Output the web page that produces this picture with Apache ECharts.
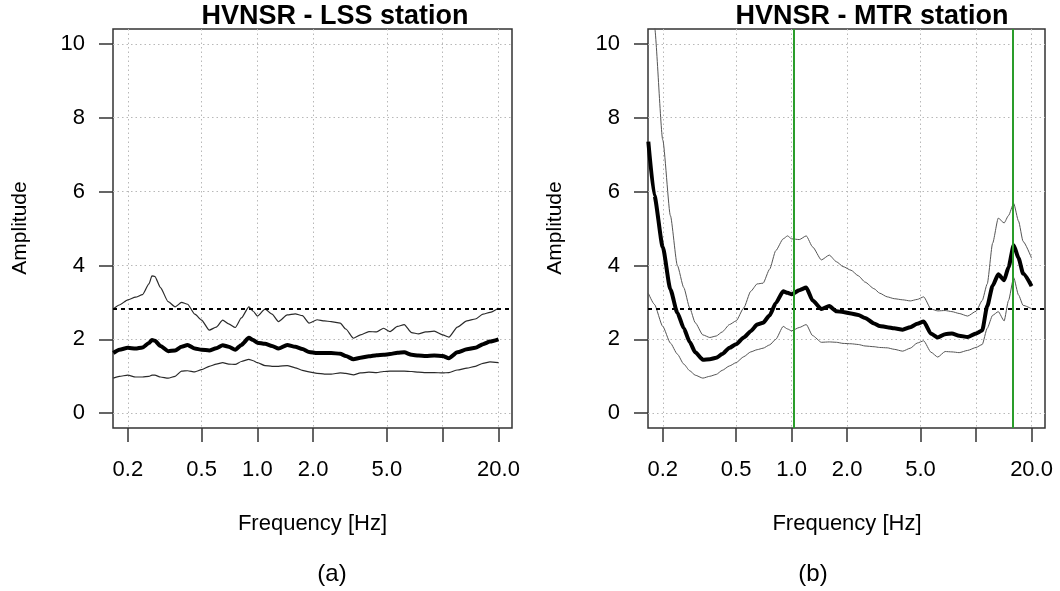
<!DOCTYPE html>
<html><head><meta charset="utf-8">
<script src="https://cdn.jsdelivr.net/npm/echarts@6/dist/echarts.min.js"></script>
<style>html,body{margin:0;padding:0;background:#fff}#c{width:1060px;height:591px}</style>
</head><body><div id="c"></div>
<script>
// ---- data (frequencies in Hz, amplitudes) ----
const freqLSS = [0.167,0.18,0.2,0.22,0.24,0.26,0.27,0.28,0.3,0.33,0.36,0.39,0.42,0.46,0.5,0.55,0.6,0.65,0.7,0.76,0.82,0.9,0.95,1.0,1.1,1.2,1.3,1.45,1.6,1.75,1.9,2.1,2.3,2.5,2.8,3.0,3.3,3.6,4.0,4.4,4.8,5.2,5.7,6.2,6.8,7.4,8.1,9.0,10,10.8,12,13.5,15,16.5,18,20];
const lssUpper = [2.82,2.93,3.07,3.14,3.21,3.50,3.72,3.70,3.40,3.02,2.88,3.00,2.95,2.68,2.52,2.25,2.33,2.52,2.42,2.32,2.58,2.88,2.76,2.63,2.82,2.68,2.48,2.66,2.69,2.64,2.44,2.53,2.50,2.48,2.44,2.28,2.03,2.12,2.21,2.20,2.30,2.21,2.35,2.40,2.18,2.15,2.20,2.22,2.12,2.06,2.33,2.50,2.55,2.68,2.73,2.85];
const lssMean = [1.63,1.72,1.77,1.75,1.78,1.90,1.98,1.96,1.82,1.68,1.70,1.80,1.85,1.75,1.72,1.70,1.76,1.84,1.80,1.72,1.85,2.04,1.98,1.91,1.88,1.82,1.75,1.85,1.80,1.74,1.66,1.63,1.63,1.63,1.61,1.55,1.46,1.50,1.54,1.57,1.58,1.60,1.64,1.65,1.58,1.56,1.55,1.56,1.55,1.49,1.65,1.73,1.77,1.87,1.94,2.00];
const lssLower = [0.95,1.00,1.03,0.98,0.98,1.00,1.03,1.03,0.98,0.95,1.00,1.14,1.15,1.12,1.18,1.27,1.33,1.37,1.33,1.32,1.40,1.46,1.42,1.37,1.29,1.27,1.27,1.29,1.23,1.16,1.12,1.08,1.06,1.06,1.09,1.08,1.04,1.09,1.11,1.10,1.13,1.14,1.14,1.14,1.13,1.11,1.10,1.10,1.09,1.10,1.17,1.22,1.27,1.35,1.39,1.37];

const freqMTR = [0.167,0.18,0.2,0.22,0.24,0.26,0.28,0.3,0.33,0.36,0.39,0.42,0.46,0.5,0.55,0.6,0.65,0.7,0.76,0.82,0.9,0.95,1.0,1.1,1.2,1.3,1.45,1.6,1.75,1.9,2.1,2.3,2.5,2.8,3.0,3.3,3.6,4.0,4.4,4.8,5.2,5.7,6.2,6.8,7.4,8.1,9.0,10,10.8,11.5,12.3,13.2,14.2,15,16,17,18,20];
const mtrUpper = [12.6,10.5,7.4,5.35,4.0,3.4,2.85,2.45,2.12,2.05,2.09,2.2,2.4,2.5,2.85,3.3,3.5,3.52,3.9,4.4,4.72,4.8,4.72,4.7,4.8,4.5,4.15,4.28,4.1,3.97,3.87,3.72,3.55,3.37,3.25,3.15,3.1,3.07,3.04,3.08,3.15,2.82,2.77,2.78,2.75,2.7,2.63,2.76,3.05,3.5,4.6,5.28,5.15,5.35,5.68,5.2,4.65,4.2];
const mtrMean = [7.35,5.9,4.5,3.35,2.72,2.3,1.93,1.65,1.45,1.46,1.50,1.60,1.77,1.87,2.05,2.22,2.40,2.45,2.65,2.98,3.30,3.26,3.22,3.33,3.40,3.05,2.82,2.90,2.76,2.74,2.70,2.66,2.58,2.43,2.36,2.33,2.30,2.26,2.33,2.42,2.48,2.15,2.05,2.14,2.16,2.10,2.06,2.16,2.24,2.9,3.45,3.76,3.60,3.95,4.55,4.2,3.78,3.44];
const mtrLower = [3.25,2.95,2.35,1.9,1.6,1.33,1.15,1.03,0.95,1.0,1.05,1.16,1.28,1.37,1.53,1.66,1.72,1.76,1.85,2.0,2.35,2.28,2.23,2.32,2.40,2.1,1.92,1.93,1.92,1.89,1.88,1.86,1.82,1.8,1.78,1.77,1.73,1.68,1.76,1.9,1.96,1.65,1.52,1.67,1.66,1.64,1.7,1.78,1.86,2.3,2.65,2.75,2.5,3.05,3.67,3.2,2.92,2.83];

const tickFreqs = [0.2,0.5,1,2,5,10,20];
const tickLabels = ['0.2','0.5','1.0','2.0','5.0','','20.0'];
const ampTicks = [0,2,4,6,8,10];
const thresholdLevel = 2.82;
const peakFreqsMTR = [1.03, 15.8];
const titles = ['HVNSR - LSS station','HVNSR - MTR station'];
const panelTags = ['(a)','(b)'];
const xTitle = 'Frequency [Hz]';
const yTitle = 'Amplitude';

// ---- chart ----
const FONT = '"Liberation Sans", Arial, Helvetica, sans-serif';
const lg = v => Math.log10(v);
const X_MIN = -0.779, X_MAX = 1.374;
const grids = [
  {left:113, right:548, top:29, bottom:163},
  {left:648, right:15, top:29, bottom:163}
];
const BOX = '#333333';

function xAxisFor(i){
  const vals = tickFreqs.map(lg);
  return {
    type:'value', gridIndex:i, min:X_MIN, max:X_MAX, position:'bottom',
    axisLine:{show:false, onZero:false},
    axisTick:{show:true, inside:false, length:14, customValues:vals, lineStyle:{color:BOX, width:1.5}},
    axisLabel:{customValues:vals, margin:31, fontSize:22, color:'#000', fontFamily:FONT,
      formatter:v=>{ for(let k=0;k<vals.length;k++){ if(Math.abs(vals[k]-v)<1e-6) return tickLabels[k]; } return ''; }},
    splitLine:{show:true, lineStyle:{color:'#b8b8b8', width:1, type:[1.5,3]}}
  };
}
function yAxisFor(i){
  return {
    type:'value', gridIndex:i, min:-0.4, max:10.4, position:'left',
    axisLine:{show:false, onZero:false},
    axisTick:{show:true, inside:false, length:14, customValues:ampTicks, lineStyle:{color:BOX, width:1.5}},
    axisLabel:{customValues:ampTicks, margin:28, fontSize:22, color:'#000', fontFamily:FONT},
    splitLine:{show:true, lineStyle:{color:'#b8b8b8', width:1, type:[1.5,3]}}
  };
}
function lineSeries(i, freqs, vals, width, color, extra){
  return Object.assign({
    type:'line', xAxisIndex:i, yAxisIndex:i, symbol:'none', showSymbol:false,
    clip:true, silent:true, animation:false, smooth:0.2, smoothMonotone:'x',
    lineStyle:{color:color, width:width},
    data: freqs.map((f,k)=>[lg(f), vals[k]])
  }, extra||{});
}
const dashedLine = {yAxis:thresholdLevel, lineStyle:{color:'#000', width:2, type:[4,4]}};

const option = {
  backgroundColor:'#fff',
  animation:false,
  grid: grids.map(g=>Object.assign({show:true, borderColor:BOX, borderWidth:1.5, backgroundColor:'transparent', containLabel:false}, g)),
  xAxis:[xAxisFor(0), xAxisFor(1)],
  yAxis:[yAxisFor(0), yAxisFor(1)],
  series:[
    lineSeries(0, freqLSS, lssUpper, 1.2, '#2a2a2a'),
    lineSeries(0, freqLSS, lssLower, 1.2, '#2a2a2a'),
    lineSeries(0, freqLSS, lssMean, 4, '#000', {
      markLine:{silent:true, symbol:['none','none'], label:{show:false}, animation:false, data:[dashedLine]}
    }),
    lineSeries(1, freqMTR, mtrUpper, 1, '#555'),
    lineSeries(1, freqMTR, mtrLower, 1, '#555'),
    lineSeries(1, freqMTR, mtrMean, 4, '#000', {
      markLine:{silent:true, symbol:['none','none'], label:{show:false}, animation:false,
        data:[dashedLine].concat(peakFreqsMTR.map(f=>({xAxis:lg(f), lineStyle:{color:'#2a9d2a', width:2, type:'solid'}})))}
    })
  ],
  graphic:[
    {type:'text', x:335, y:17, style:{text:titles[0], font:'bold 27px '+FONT, fill:'#000', align:'center', verticalAlign:'middle', textAlign:'center', textVerticalAlign:'middle'}},
    {type:'text', x:872, y:17, style:{text:titles[1], font:'bold 27px '+FONT, fill:'#000', align:'center', verticalAlign:'middle', textAlign:'center', textVerticalAlign:'middle'}},
    {type:'text', x:312.5, y:524, style:{text:xTitle, font:'22px '+FONT, fill:'#000', align:'center', verticalAlign:'middle', textAlign:'center', textVerticalAlign:'middle'}},
    {type:'text', x:847, y:524, style:{text:xTitle, font:'22px '+FONT, fill:'#000', align:'center', verticalAlign:'middle', textAlign:'center', textVerticalAlign:'middle'}},
    {type:'text', x:20, y:228, rotation:Math.PI/2, style:{text:yTitle, font:'21px '+FONT, fill:'#000', align:'center', verticalAlign:'middle', textAlign:'center', textVerticalAlign:'middle'}},
    {type:'text', x:555, y:228, rotation:Math.PI/2, style:{text:yTitle, font:'21px '+FONT, fill:'#000', align:'center', verticalAlign:'middle', textAlign:'center', textVerticalAlign:'middle'}},
    {type:'text', x:332, y:574, style:{text:panelTags[0], font:'24px '+FONT, fill:'#000', align:'center', verticalAlign:'middle', textAlign:'center', textVerticalAlign:'middle'}},
    {type:'text', x:813, y:574, style:{text:panelTags[1], font:'24px '+FONT, fill:'#000', align:'center', verticalAlign:'middle', textAlign:'center', textVerticalAlign:'middle'}}
  ]
};
const chart = echarts.init(document.getElementById('c'), null, {renderer:'canvas', width:1060, height:591});
chart.setOption(option);
</script>
</body></html>
